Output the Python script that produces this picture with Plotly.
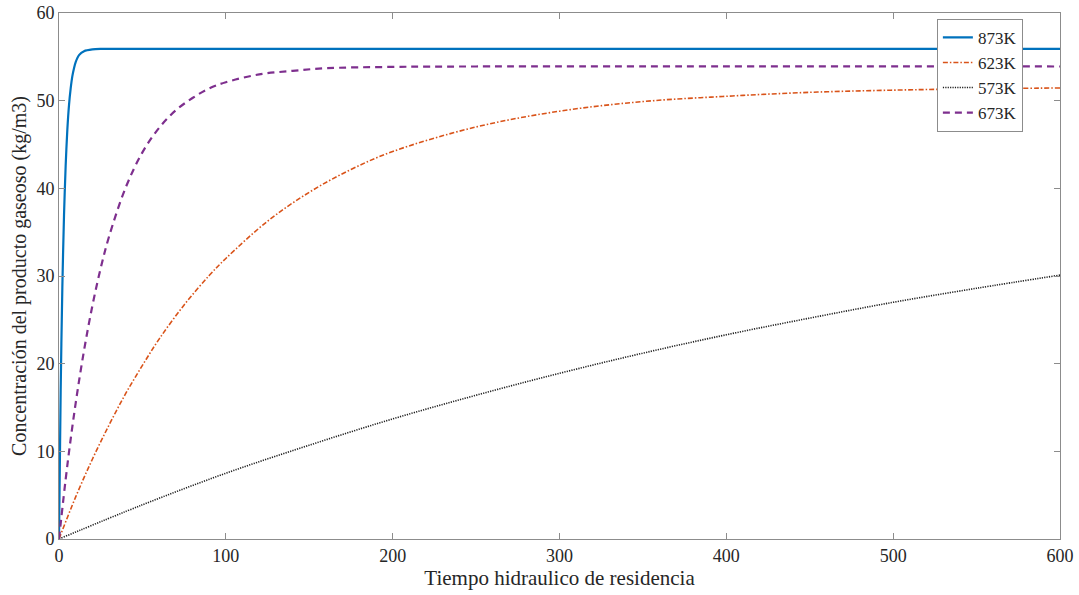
import plotly.graph_objects as go

# 873K
x873 = [0, 1, 2, 3, 4, 5, 6, 7, 8, 9, 10, 12, 15, 20, 25, 30, 600]
y873 = [0, 16.9, 28.7, 36.9, 42.6, 46.7, 49.5, 51.4, 52.8, 53.7, 54.4, 55.2, 55.65, 55.85, 55.9, 55.9, 55.9]

# 623K
x623 = [0, 10, 20, 30, 40, 50, 60, 75, 90, 100, 125, 150, 175, 200, 250, 300, 350, 400, 450, 500, 550, 600]
y623 = [0, 4.8, 9.1, 13.0, 16.6, 19.8, 22.8, 26.7, 30.05, 32.0, 36.25, 39.55, 42.15, 44.2, 47.0, 48.8, 49.9, 50.5, 50.95, 51.2, 51.35, 51.45]

# 573K
x573 = [0, 50, 100, 150, 200, 250, 300, 350, 400, 450, 500, 550, 600]
y573 = [0, 3.9, 7.5, 10.7, 13.7, 16.4, 18.9, 21.2, 23.3, 25.2, 27.0, 28.6, 30.1]

# 673K
x673 = [0, 5, 10, 15, 20, 25, 30, 40, 50, 60, 70, 80, 90, 100, 120, 140, 160, 200, 250, 600]
y673 = [0, 8.4, 15.5, 21.5, 26.6, 30.9, 34.5, 40.1, 44.1, 46.9, 48.9, 50.3, 51.4, 52.1, 53.0, 53.4, 53.7, 53.85, 53.9, 53.9]

x_ticks = [0, 100, 200, 300, 400, 500, 600]
y_ticks = [0, 10, 20, 30, 40, 50, 60]

FONT = "Liberation Serif, Times New Roman, serif"

fig = go.Figure()
fig.add_trace(go.Scatter(x=x873, y=y873, mode="lines", name="873K",
                         line=dict(color="#0072BD", width=2.2, shape="spline", smoothing=0.8)))
fig.add_trace(go.Scatter(x=x623, y=y623, mode="lines", name="623K",
                         line=dict(color="#D95319", width=1.6, dash="5px,2px,1.5px,2px",
                                   shape="spline", smoothing=1.0)))
fig.add_trace(go.Scatter(x=x573, y=y573, mode="lines", name="573K",
                         line=dict(color="#202020", width=1.6, dash="1.2px,1.2px",
                                   shape="spline", smoothing=1.0)))
fig.add_trace(go.Scatter(x=x673, y=y673, mode="lines", name="673K",
                         line=dict(color="#7E2F8E", width=2.2, dash="7px,5px",
                                   shape="spline", smoothing=1.0)))

axis_common = dict(
    showgrid=False, zeroline=False, showline=True, linecolor="#8c8c8c", linewidth=1,
    mirror="ticks", ticks="inside", ticklen=6, tickcolor="#8c8c8c", tickwidth=1,
    tickfont=dict(family=FONT, size=18, color="#262626"), automargin=False,
)

fig.update_layout(
    width=1079, height=595,
    margin=dict(l=59, r=19, t=13, b=56),
    paper_bgcolor="white", plot_bgcolor="white",
    font=dict(family=FONT, color="#262626"),
    xaxis=dict(range=[0, 600], tickvals=x_ticks, **axis_common,
               title=dict(text="Tiempo hidraulico de residencia",
                          font=dict(family=FONT, size=21, color="#262626"), standoff=4)),
    yaxis=dict(range=[0, 60], tickvals=y_ticks, **axis_common,
               title=dict(text="Concentración del producto gaseoso (kg/m3)",
                          font=dict(family=FONT, size=20, color="#262626"), standoff=4)),
    legend=dict(x=0.877, y=0.989, xanchor="left", yanchor="top",
                bgcolor="white", bordercolor="#8c8c8c", borderwidth=1,
                font=dict(family=FONT, size=17, color="#262626"),
                tracegroupgap=0, itemwidth=30),
    showlegend=True,
)

fig.write_html("out.html")
